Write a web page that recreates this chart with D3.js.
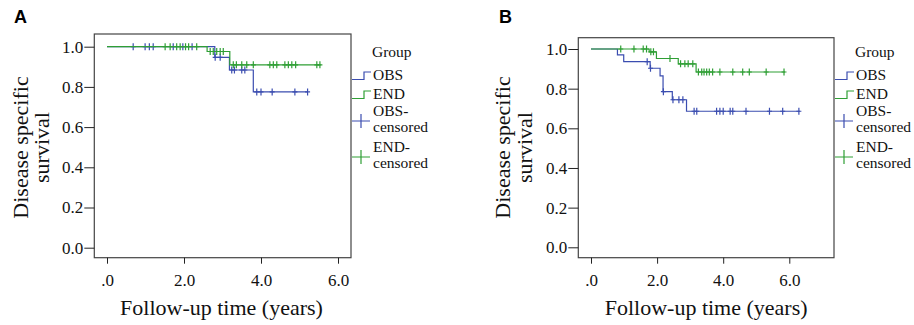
<!DOCTYPE html>
<html>
<head>
<meta charset="utf-8">
<script src="https://cdn.jsdelivr.net/npm/d3@7"></script>
<style>
  body { margin: 0; background: #fff; }
  svg { display: block; }
  text { font-family: "Liberation Serif", "Times New Roman", serif; fill: #111; }
  text.panel-label { font-family: "Liberation Sans", Arial, sans-serif; font-weight: bold; font-size: 18px; fill: #000; }
  .tick text { font-family: "Liberation Serif", "Times New Roman", serif; font-size: 17px; }
  .tick line { stroke: #222; }
  .title { font-size: 22px; }
  .legend text { font-size: 15.5px; }
</style>
</head>
<body>
<svg id="chart" width="914" height="325"></svg>
<script>
// shared axis ticks
const timeTicks = [0, 2, 4, 6]
const survTicks = [0, 0.2, 0.4, 0.6, 0.8, 1.0]
const groups = ['OBS', 'END']

// panel A - step curves (time of event, survival after it)
const aObsTime = [0, 2.80, 3.18, 3.80, 5.22]
const aObsSurv = [1, 0.947, 0.884, 0.775, 0.775]
const aEndTime = [0, 2.60, 3.19, 5.55]
const aEndSurv = [1, 0.976, 0.910, 0.910]
// panel A - censored times
const aObsCens = [0.68, 0.99, 1.10, 1.20, 1.72, 1.97, 2.21, 2.81, 2.94, 3.24, 3.31, 3.50, 3.58, 3.89, 4.00, 4.29, 4.88, 5.21]
const aEndCens = [1.51, 1.64, 1.81, 1.90, 2.04, 2.12, 2.33, 2.68, 2.76, 2.85, 2.94, 3.02, 3.28, 3.36, 3.50, 3.63, 3.80, 4.23, 4.32, 4.41, 4.62, 4.71, 4.80, 4.90, 5.45, 5.53]

// panel B
const bObsTime = [0, 0.80, 0.99, 1.79, 2.09, 2.18, 2.46, 2.89, 6.32]
const bObsSurv = [1, 0.970, 0.936, 0.903, 0.864, 0.785, 0.744, 0.686, 0.686]
const bEndTime = [0, 1.76, 1.98, 2.64, 3.18, 5.87]
const bEndSurv = [1, 0.986, 0.952, 0.925, 0.884, 0.884]
const bObsCens = [1.70, 1.80, 2.19, 2.48, 2.66, 2.78, 3.12, 3.20, 3.80, 3.90, 4.00, 4.21, 4.29, 4.69, 5.40, 5.80, 6.29]
const bEndCens = [0.90, 1.30, 1.58, 1.68, 1.81, 1.89, 2.39, 2.71, 2.84, 2.94, 3.08, 3.25, 3.35, 3.42, 3.50, 3.58, 3.68, 3.90, 4.29, 4.59, 4.79, 5.30, 5.84]

const colors = { OBS: '#3b4db0', END: '#2f9f35' }

const svg = d3.select('#chart')

// survival at time t from a step curve
function survAt (times, surv, t) {
  const i = d3.bisectRight(times, t) - 1
  return surv[Math.max(0, i)]
}

function drawPanel (cfg) {
  const g = svg.append('g')

  const x = d3.scaleLinear().domain([0, 6]).range([cfg.x0, cfg.x6])
  const y = d3.scaleLinear().domain([0, 1]).range([cfg.y0, cfg.y1])
  const box = cfg.box

  // panel letter
  g.append('text')
    .attr('class', 'panel-label')
    .attr('x', cfg.labelX)
    .attr('y', 23)
    .text(cfg.label)

  // plot box
  g.append('rect')
    .attr('x', box.left)
    .attr('y', box.top)
    .attr('width', box.right - box.left)
    .attr('height', box.bottom - box.top)
    .attr('fill', '#fff')
    .attr('stroke', '#444')
    .attr('stroke-width', 1.2)

  // axes
  const yAxis = d3.axisLeft(y)
    .tickValues(survTicks)
    .tickSize(10)
    .tickSizeOuter(0)
    .tickPadding(1)
    .tickFormat(d => d.toFixed(1))
  g.append('g')
    .attr('transform', 'translate(' + box.left + ',0)')
    .call(yAxis)
    .attr('font-family', null)
    .attr('font-size', null)
    .call(a => a.select('.domain').remove())

  const xAxis = d3.axisBottom(x)
    .tickValues(timeTicks)
    .tickSize(6)
    .tickSizeOuter(0)
    .tickPadding(10)
    .tickFormat(d => d === 0 ? '.0' : d.toFixed(1))
  g.append('g')
    .attr('transform', 'translate(0,' + box.bottom + ')')
    .call(xAxis)
    .attr('font-family', null)
    .attr('font-size', null)
    .call(a => a.select('.domain').remove())

  // axis titles
  g.append('text')
    .attr('class', 'title')
    .attr('text-anchor', 'middle')
    .attr('x', (x(0) + x(6)) / 2 + cfg.xTitleShift)
    .attr('y', 315)
    .text('Follow-up time (years)')

  const yt = g.append('text')
    .attr('class', 'title')
    .attr('text-anchor', 'middle')
    .attr('transform', 'translate(' + cfg.yTitleX + ',147.5) rotate(-90)')
  yt.append('tspan').attr('x', 0).attr('y', 0).text('Disease specific')
  yt.append('tspan').attr('x', 0).attr('y', 21.5).text('survival')

  // curves
  const line = d3.line()
    .curve(d3.curveStepAfter)
    .x(d => x(d[0]))
    .y(d => y(d[1]))

  cfg.series.forEach(s => {
    const pts = s.time.map((t, i) => [t, s.surv[i]])
    g.append('path')
      .datum(pts)
      .attr('fill', 'none')
      .attr('stroke', colors[s.group])
      .attr('stroke-width', 1.2)
      .attr('d', line)

    g.selectAll(null)
      .data(s.cens)
      .enter().append('path')
      .attr('fill', 'none')
      .attr('stroke', colors[s.group])
      .attr('stroke-width', 1.2)
      .attr('d', t => {
        const cx = x(t)
        const cy = y(survAt(s.time, s.surv, t))
        return 'M' + cx + ',' + (cy - 3.5) + 'V' + (cy + 3.5) +
          'M' + (cx - 2.5) + ',' + cy + 'H' + (cx + 2.5)
      })
  })

  // legend
  const lg = g.append('g')
    .attr('class', 'legend')
    .attr('transform', 'translate(' + box.right + ',0)')
  const tx = 22
  lg.append('text').attr('x', tx - 1).attr('y', 57).text('Group')

  groups.forEach((name, i) => {
    const low = 79.5 + i * 19
    lg.append('path')
      .attr('fill', 'none')
      .attr('stroke', colors[name])
      .attr('stroke-width', 1.2)
      .attr('d', 'M1,' + low + 'H13V' + (low - 7.5) + 'H20')
    lg.append('text').attr('x', tx).attr('y', 80 + i * 19).text(name)

    const cy = 121 + i * 36
    lg.append('path')
      .attr('fill', 'none')
      .attr('stroke', colors[name])
      .attr('stroke-width', 1.2)
      .attr('d', 'M1,' + cy + 'H19M10,' + (cy - 7) + 'V' + (cy + 7))
    const ct = lg.append('text').attr('x', tx)
    ct.append('tspan').attr('x', tx).attr('y', 116 + i * 36).text(name + '-')
    ct.append('tspan').attr('x', tx).attr('y', 131.5 + i * 36).text('censored')
  })
}

drawPanel({
  label: 'A',
  labelX: 14,
  x0: 107, x6: 338,
  y0: 247.7, y1: 46.7,
  box: { left: 94.3, right: 351, top: 34, bottom: 257.7 },
  xTitleShift: -1,
  yTitleX: 27.5,
  series: [
    { group: 'OBS', time: aObsTime, surv: aObsSurv, cens: aObsCens },
    { group: 'END', time: aEndTime, surv: aEndSurv, cens: aEndCens }
  ]
})

drawPanel({
  label: 'B',
  labelX: 499,
  x0: 591, x6: 789.3,
  y0: 247.3, y1: 49,
  box: { left: 578.3, right: 834, top: 37.7, bottom: 257.7 },
  xTitleShift: 16,
  yTitleX: 510,
  series: [
    { group: 'OBS', time: bObsTime, surv: bObsSurv, cens: bObsCens },
    { group: 'END', time: bEndTime, surv: bEndSurv, cens: bEndCens }
  ]
})
</script>
</body>
</html>
